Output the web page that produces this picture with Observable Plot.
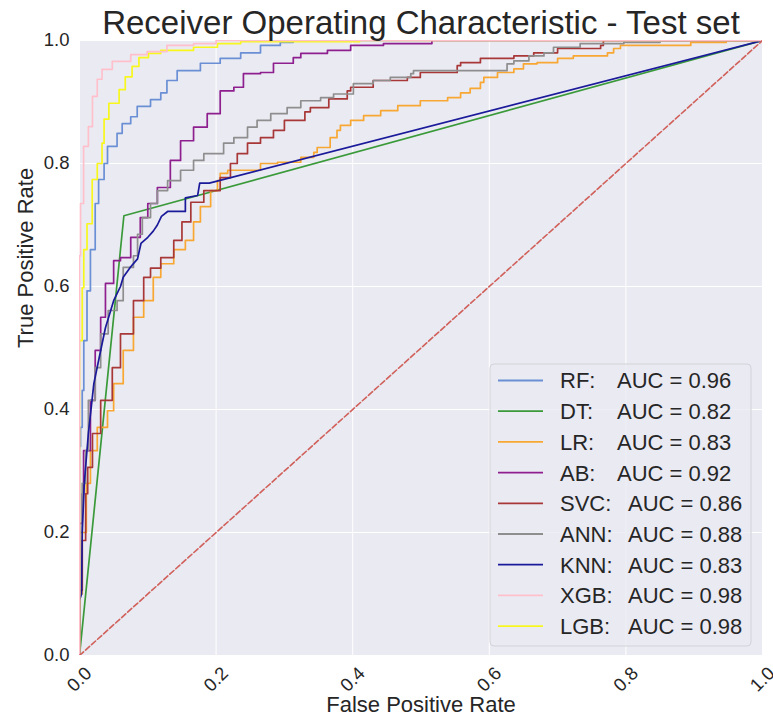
<!DOCTYPE html>
<html>
<head>
<meta charset="utf-8">
<script src="https://cdn.jsdelivr.net/npm/d3@7"></script>
<script src="https://cdn.jsdelivr.net/npm/@observablehq/plot@0.6"></script>
<style>
  html, body { margin: 0; padding: 0; background: #ffffff; }
  #chart svg { display: block; }
</style>
</head>
<body>
<div id="chart"></div>
<script>
// Models compared on the test set, with their reported AUC
const models = ["RF", "DT", "LR", "AB", "SVC", "ANN", "KNN", "XGB", "LGB"];
const aucs = [0.96, 0.82, 0.83, 0.92, 0.86, 0.88, 0.83, 0.98, 0.98];

// ROC points as [false positive rate, true positive rate]
const rf = [[0,0],[0,0.09],[0.0015,0.34],[0.004,0.371],[0.0063,0.431],[0.011,0.512],[0.016,0.593],[0.023,0.66],[0.028,0.735],[0.036,0.774],[0.041,0.8],[0.055,0.828],[0.0625,0.849],[0.075,0.865],[0.0845,0.876],[0.104,0.893],[0.119,0.904],[0.128,0.915],[0.143,0.935],[0.177,0.951],[0.206,0.963],[0.236,0.971],[0.265,0.98],[0.294,0.992],[0.313,0.997],[0.324,1],[1,1]];
const dt = [[0,0],[0.065,0.715],[1,1]];
const lr = [[0,0],[0,0.02],[0.004,0.1],[0.01,0.2],[0.016,0.28],[0.026,0.333],[0.041,0.371],[0.05,0.398],[0.064,0.442],[0.079,0.496],[0.094,0.55],[0.108,0.577],[0.119,0.615],[0.138,0.637],[0.155,0.66],[0.167,0.675],[0.177,0.705],[0.192,0.73],[0.202,0.756],[0.206,0.772],[0.217,0.784],[0.265,0.789],[0.29,0.8],[0.324,0.802],[0.343,0.81],[0.348,0.818],[0.367,0.826],[0.377,0.842],[0.382,0.854],[0.397,0.862],[0.416,0.87],[0.441,0.878],[0.466,0.886],[0.499,0.894],[0.539,0.902],[0.558,0.907],[0.572,0.915],[0.587,0.922],[0.592,0.932],[0.612,0.94],[0.636,0.948],[0.65,0.954],[0.67,0.962],[0.7,0.964],[0.723,0.971],[0.773,0.975],[0.782,0.98],[0.792,0.987],[0.895,0.992],[0.947,0.997],[1,1]];
const ab = [[0,0],[0,0.1],[0.004,0.215],[0.006,0.263],[0.016,0.333],[0.023,0.415],[0.031,0.496],[0.038,0.55],[0.05,0.605],[0.06,0.642],[0.075,0.647],[0.089,0.68],[0.1,0.712],[0.114,0.735],[0.133,0.761],[0.148,0.805],[0.167,0.837],[0.187,0.859],[0.206,0.881],[0.226,0.918],[0.24,0.924],[0.265,0.946],[0.284,0.948],[0.313,0.963],[0.324,0.972],[0.363,0.979],[0.397,0.984],[0.445,0.992],[0.516,0.995],[0.52,1],[1,1]];
const svc = [[0,0],[0,0.02],[0.004,0.106],[0.009,0.187],[0.012,0.263],[0.019,0.306],[0.031,0.361],[0.048,0.415],[0.06,0.468],[0.079,0.523],[0.094,0.577],[0.104,0.615],[0.119,0.63],[0.138,0.647],[0.15,0.675],[0.163,0.705],[0.182,0.737],[0.206,0.756],[0.221,0.777],[0.231,0.8],[0.246,0.816],[0.265,0.833],[0.284,0.842],[0.3,0.854],[0.33,0.87],[0.338,0.884],[0.365,0.891],[0.392,0.905],[0.397,0.918],[0.43,0.924],[0.48,0.935],[0.499,0.94],[0.553,0.948],[0.558,0.959],[0.587,0.964],[0.636,0.971],[0.665,0.975],[0.7,0.98],[0.763,0.987],[0.767,0.992],[0.788,1],[1,1]];
const ann = [[0,0],[0,0.05],[0.004,0.2],[0.009,0.28],[0.013,0.333],[0.023,0.415],[0.031,0.468],[0.042,0.523],[0.055,0.561],[0.064,0.577],[0.079,0.631],[0.085,0.65],[0.092,0.685],[0.104,0.712],[0.114,0.735],[0.129,0.756],[0.148,0.772],[0.167,0.789],[0.182,0.805],[0.211,0.816],[0.226,0.833],[0.246,0.842],[0.26,0.859],[0.28,0.87],[0.304,0.881],[0.324,0.891],[0.353,0.902],[0.372,0.907],[0.401,0.913],[0.43,0.93],[0.455,0.935],[0.485,0.94],[0.489,0.946],[0.626,0.951],[0.636,0.962],[0.658,0.967],[0.68,0.975],[0.694,0.98],[0.733,0.989],[0.797,0.995],[0.85,0.997],[0.949,1],[1,1]];
const knn = [[0,0],[0,0.09],[0.003,0.1],[0.004,0.2],[0.007,0.28],[0.013,0.361],[0.021,0.442],[0.031,0.496],[0.038,0.533],[0.05,0.577],[0.06,0.6],[0.064,0.615],[0.075,0.632],[0.085,0.645],[0.09,0.67],[0.1,0.68],[0.108,0.69],[0.114,0.7],[0.12,0.714],[0.129,0.722],[0.155,0.722],[0.155,0.744],[0.173,0.748],[0.176,0.768],[0.19,0.768],[1,1]];
const xgb = [[0,0],[0,0.58],[0.0015,0.65],[0.006,0.735],[0.013,0.828],[0.019,0.86],[0.026,0.909],[0.033,0.937],[0.048,0.953],[0.075,0.966],[0.099,0.977],[0.128,0.982],[0.167,0.992],[0.2,0.995],[0.26,1],[1,1]];
const lgb = [[0,0],[0,0.4],[0.004,0.512],[0.0063,0.598],[0.011,0.66],[0.0186,0.702],[0.026,0.774],[0.033,0.8],[0.036,0.833],[0.043,0.872],[0.058,0.898],[0.067,0.92],[0.077,0.941],[0.087,0.958],[0.101,0.972],[0.119,0.979],[0.167,0.984],[0.202,0.989],[0.236,0.995],[0.26,0.998],[0.41,0.998],[0.41,1],[1,1]];

const curves = [rf, dt, lr, ab, svc, ann, knn, xgb, lgb];
const chance = [[0, 0], [1, 1]];
const xTicks = [0, 0.2, 0.4, 0.6, 0.8, 1.0];
const yTicks = [0, 0.2, 0.4, 0.6, 0.8, 1.0];

const title = "Receiver Operating Characteristic - Test set";
const xLabel = "False Positive Rate";
const yLabel = "True Positive Rate";

// Styling
const palette = ["#6a8fd4", "#3a9a3a", "#f8a832", "#8e1f8e", "#a83838", "#8e8e8e", "#1a1a9a", "#ffc0cb", "#f7f71e"];
const straight = new Set(["DT", "KNN"]);
const drawOrder = [0, 1, 2, 3, 4, 5, 6, 8, 7]; // XGB stroked last so it sits on top along TPR = 1
const ink = "#262626";
const fmt = d3.format(".1f");

const chart = Plot.plot({
  width: 773,
  height: 724,
  marginLeft: 79,
  marginRight: 11,
  marginTop: 40,
  marginBottom: 69,
  style: { fontFamily: "'Liberation Sans', Arial, sans-serif", color: ink, background: "#ffffff" },
  x: { domain: [0, 1], label: null },
  y: { domain: [0, 1], label: null },
  marks: [
    Plot.frame({ fill: "#eaeaf2", stroke: "none" }),
    Plot.gridX(xTicks, { stroke: "#ffffff", strokeOpacity: 1, strokeWidth: 1 }),
    Plot.gridY(yTicks, { stroke: "#ffffff", strokeOpacity: 1, strokeWidth: 1 }),
    Plot.axisX({ ticks: xTicks, tickFormat: fmt, tickSize: 0, tickPadding: 24, tickRotate: -45,
                 textAnchor: "middle", lineAnchor: "middle", fontSize: 18.5, label: null }),
    Plot.axisY({ ticks: yTicks, tickFormat: fmt, tickSize: 0, tickPadding: 10, fontSize: 18.5, label: null }),
    ...drawOrder.map(i => Plot.line(curves[i], {
      x: d => d[0], y: d => d[1],
      stroke: palette[i], strokeWidth: 1.7, clip: true,
      curve: straight.has(models[i]) ? "linear" : "step-before"
    })),
    Plot.line(chance, { x: d => d[0], y: d => d[1], stroke: "#d0605a", strokeWidth: 1.6,
                        strokeDasharray: "5.5,2.6", clip: true }),
    Plot.text([title], { text: d => d, frameAnchor: "top", dy: -7, lineAnchor: "bottom", fontSize: 33 }),
    Plot.text([yLabel], { text: d => d, frameAnchor: "left", dx: -54, rotate: -90, fontSize: 22 }),
    Plot.text([xLabel], { text: d => d, frameAnchor: "bottom", dy: 56, fontSize: 22 })
  ]
});

document.getElementById("chart").appendChild(chart);

// Legend box in the lower right of the plotting area
const legend = d3.select(chart).append("g")
  .attr("font-size", 22)
  .attr("text-anchor", "start")
  .attr("fill", ink);
legend.append("rect")
  .attr("x", 490).attr("y", 364).attr("width", 261).attr("height", 282).attr("rx", 4)
  .attr("fill", "#eaeaf2").attr("fill-opacity", 0.8)
  .attr("stroke", "#d2d2d8");
models.forEach((m, i) => {
  const cy = 380.5 + i * 30.7;
  legend.append("line")
    .attr("x1", 498).attr("x2", 543).attr("y1", cy).attr("y2", cy)
    .attr("stroke", palette[i]).attr("stroke-width", 1.8);
  const t = legend.append("text").attr("y", cy).attr("dy", "0.36em").attr("text-anchor", "start");
  t.append("tspan").attr("x", 560).text(m + ":");
  t.append("tspan").attr("x", m.length > 2 ? 628 : 617).text("AUC = " + aucs[i].toFixed(2));
});
</script>
</body>
</html>
